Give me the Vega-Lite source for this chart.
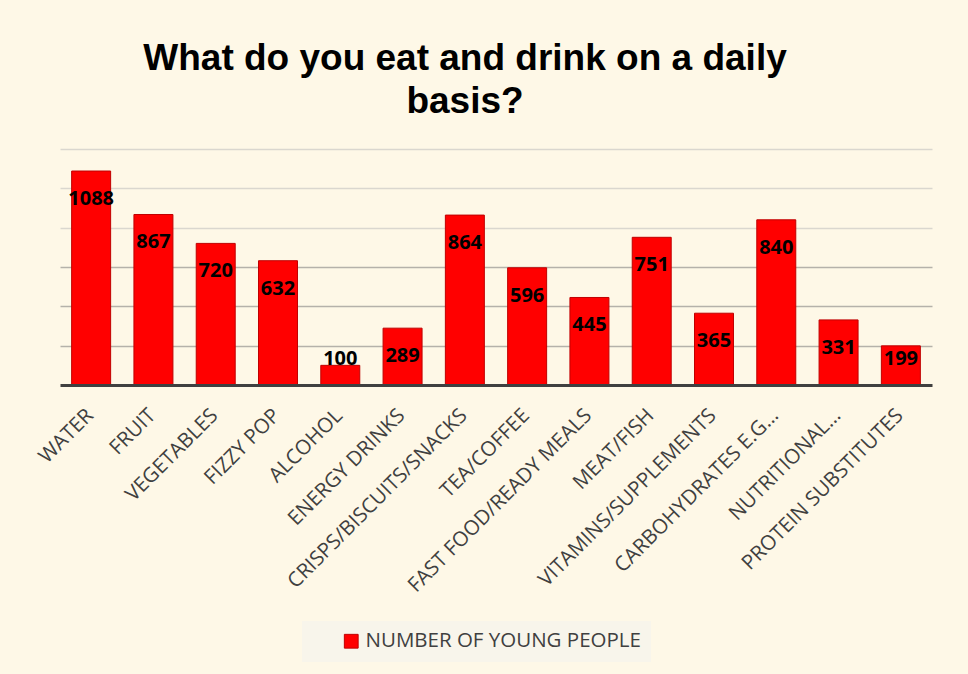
{
  "$schema": "https://vega.github.io/schema/vega-lite/v6.json",
  "width": 872,
  "height": 236,
  "autosize": {"type": "none"},
  "padding": {"left": 60, "top": 149, "right": 36, "bottom": 289},
  "background": "#FEF8E7",
  "config": {"view": {"stroke": null}},
  "title": {
    "text": ["What do you eat and drink on a daily", "basis?"],
    "font": "Liberation Sans",
    "fontSize": 37,
    "fontWeight": "bold",
    "color": "#000000",
    "anchor": "middle",
    "dx": -31,
    "lineHeight": 43,
    "offset": 28
  },
  "data": {
    "values": [
      {"item": "WATER", "count": 1088},
      {"item": "FRUIT", "count": 867},
      {"item": "VEGETABLES", "count": 720},
      {"item": "FIZZY POP", "count": 632},
      {"item": "ALCOHOL", "count": 100},
      {"item": "ENERGY DRINKS", "count": 289},
      {"item": "CRISPS/BISCUITS/SNACKS", "count": 864},
      {"item": "TEA/COFFEE", "count": 596},
      {"item": "FAST FOOD/READY MEALS", "count": 445},
      {"item": "MEAT/FISH", "count": 751},
      {"item": "VITAMINS/SUPPLEMENTS", "count": 365},
      {"item": "CARBOHYDRATES E.G…", "count": 840},
      {"item": "NUTRITIONAL…", "count": 331},
      {"item": "PROTEIN SUBSTITUTES", "count": 199}
    ]
  },
  "encoding": {
    "x": {
      "field": "item",
      "type": "nominal",
      "sort": null,
      "scale": {"paddingInner": 0.374, "paddingOuter": 0.187},
      "axis": {
        "title": null,
        "ticks": false,
        "domainColor": "#404040",
        "domainWidth": 3,
        "labelAngle": -45,
        "labelFont": "Open Sans",
        "labelFontSize": 20.5,
        "labelColor": "#404040",
        "labelPadding": 20,
        "labelOffset": -8,
        "labelLimit": 400,
        "zindex": 1
      }
    }
  },
  "layer": [
    {
      "mark": {"type": "bar", "stroke": "#C00000", "strokeWidth": 1},
      "encoding": {
        "y": {
          "field": "count",
          "type": "quantitative",
          "scale": {"domain": [0, 1200], "nice": false},
          "axis": {
            "title": null,
            "labels": false,
            "ticks": false,
            "domain": false,
            "values": [200, 400, 600, 800, 1000, 1200],
            "gridColor": {"condition": {"test": "datum.value < 700", "value": "#B5B2AA"}, "value": "#DAD7CF"},
            "gridWidth": 1.5
          }
        },
        "color": {
          "datum": "NUMBER OF YOUNG PEOPLE",
          "scale": {"range": ["#FF0000"]},
          "legend": {
            "title": null,
            "orient": "none",
            "legendX": 242,
            "legendY": 472,
            "symbolType": "square",
            "symbolSize": 190,
            "symbolStrokeColor": "#C00000",
            "symbolStrokeWidth": 1,
            "symbolOffset": 29,
            "labelFont": "Open Sans",
            "labelFontSize": 20.5,
            "labelLimit": 500,
            "labelColor": "#404040",
            "fillColor": "#F8F5EB",
            "padding": 10
          }
        }
      }
    },
    {
      "transform": [{"filter": "datum.count > 250"}],
      "mark": {"type": "text", "font": "Open Sans", "fontSize": 20, "fontWeight": "bold", "color": "#000000", "baseline": "middle", "dy": 28},
      "encoding": {
        "y": {"field": "count", "type": "quantitative"},
        "text": {"field": "count", "type": "quantitative"}
      }
    },
    {
      "transform": [{"filter": "datum.count <= 250"}],
      "mark": {"type": "text", "font": "Open Sans", "fontSize": 20, "fontWeight": "bold", "color": "#000000", "baseline": "middle", "dy": -26},
      "encoding": {
        "y": {"datum": 0, "type": "quantitative"},
        "text": {"field": "count", "type": "quantitative"}
      }
    }
  ]
}
